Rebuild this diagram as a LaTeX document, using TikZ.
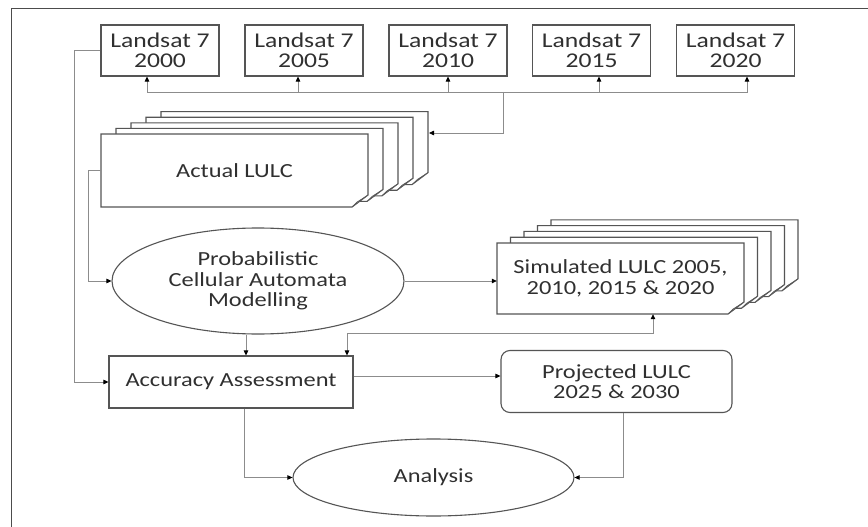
\documentclass[tikz,border=0pt]{standalone}
\usepackage{fontspec}
\setmainfont[FakeStretch=1.22]{Carlito}
\usetikzlibrary{arrows.meta,shapes.geometric,calc}
\definecolor{bord}{HTML}{555555}
\definecolor{conncol}{HTML}{8C8C8C}
\definecolor{txt}{HTML}{303030}
\newcommand\lulcsheet[4]{%
  \draw[sheet] (#1,#2) -- (#3,#2) -- (#3,#4-12) -- (#3-16,#4) -- (#1,#4) -- cycle;
  \draw[bord, fill=gray!55, line width=0.5pt] (#3-16,#4) -- (#3,#4-12) -- (#3-11,#4-5) -- cycle;}
\begin{document}
\begin{tikzpicture}[x=1pt,y=-1pt,
  box/.style={draw=bord, line width=1.1pt, fill=white, align=center, text=txt, inner sep=0pt,
    font=\fontsize{20}{20.5}\selectfont},
  sat/.style={box, minimum width=118pt, minimum height=51pt, font=\fontsize{21}{20}\selectfont},
  sheet/.style={draw=bord, line width=1.1pt, fill=white},
  lbl/.style={align=center, text=txt, inner sep=0pt, font=\fontsize{20}{20.5}\selectfont},
  conn/.style={draw=conncol, line width=0.8pt, -{Triangle[length=5pt,width=4.5pt,color=black]}},
  conn2/.style={draw=conncol, line width=0.8pt, {Triangle[length=5pt,width=4.5pt,color=black]}-{Triangle[length=5pt,width=4.5pt,color=black]}}]
\useasboundingbox[fill=white] (0,0) rectangle (868,527);
% frame
\draw[line width=1pt, color=black!70] (11,527) -- (11,8.5) -- (868,8.5);
% Landsat boxes
\node[sat] (L1) at (160,50.5) {Landsat 7\\2000};
\node[sat] (L2) at (304,50.5) {Landsat 7\\2005};
\node[sat] (L3) at (448,50.5) {Landsat 7\\2010};
\node[sat] (L4) at (591.5,50.5) {Landsat 7\\2015};
\node[sat] (L5) at (735.5,50.5) {Landsat 7\\2020};
% Actual LULC stack
\foreach \i in {4,3,2,1,0}{\lulcsheet{101+15*\i}{134-5.6*\i}{368+15*\i}{207-5.6*\i}}
\node[lbl, minimum width=267pt, minimum height=73pt] (A0) at (234.5,170.5) {Actual LULC};
\coordinate (ain) at (429,133);
% Simulated LULC stack
\foreach \i in {4,3,2,1,0}{\lulcsheet{497+13.5*\i}{243-5.8*\i}{744+13.5*\i}{314-5.8*\i}}
\node[lbl, minimum width=247pt, minimum height=71pt] (S0) at (620.5,278.5) {Simulated LULC 2005,\\2010, 2015 \& 2020};
% PCA ellipse
\node[box, ellipse, minimum width=292pt, minimum height=106pt] (pca) at (258,281) {Probabilistic\\Cellular Automata\\Modelling};
% Accuracy
\node[box, minimum width=244pt, minimum height=52pt] (acc) at (231,382) {Accuracy Assessment};
% Projected
\node[box, rounded corners=9pt, minimum width=231pt, minimum height=62pt] (proj) at (616.5,381.5) {Projected LULC\\2025 \& 2030};
% Analysis
\node[box, ellipse, minimum width=281pt, minimum height=77pt] (ana) at (433.5,477.5) {Analysis};
% connectors: Landsat bus
\coordinate (hub) at (503,92);
\draw[conn] (hub) -| ([xshift=-13pt]L1.south);
\draw[conn] (hub) -| ([xshift=-6pt]L2.south);
\draw[conn] (hub) -| (L3.south);
\draw[conn] (hub) -| ([xshift=7.5pt]L4.south);
\draw[conn] (hub) -| ([xshift=11.5pt]L5.south);
\draw[conn] (hub) |- (ain);
% left connectors
\draw[conn] (L1.west) -- ++(-26,0) |- (acc.west);
\draw[conn] (A0.west) -- ++(-12,0) |- (pca.west);
% PCA to simulated
\draw[conn] (pca.east) -- (pca.east -| S0.west);
% PCA to accuracy
\draw[conn] ([xshift=-12pt]pca.south) -- ([xshift=-12pt]pca.south |- acc.north);
% simulated <-> accuracy
\draw[conn2] ([xshift=32.5pt]S0.south) -- ++(0,19) -| ([xshift=116pt]acc.north);
% accuracy to projected
\draw[conn] ([yshift=6pt]acc.east) -- ([yshift=6pt]acc.east -| proj.west);
% to analysis
\draw[conn] ([xshift=13pt]acc.south) |- (ana.west);
\draw[conn] ([xshift=6.5pt]proj.south) |- (ana.east);
\end{tikzpicture}
\end{document}
